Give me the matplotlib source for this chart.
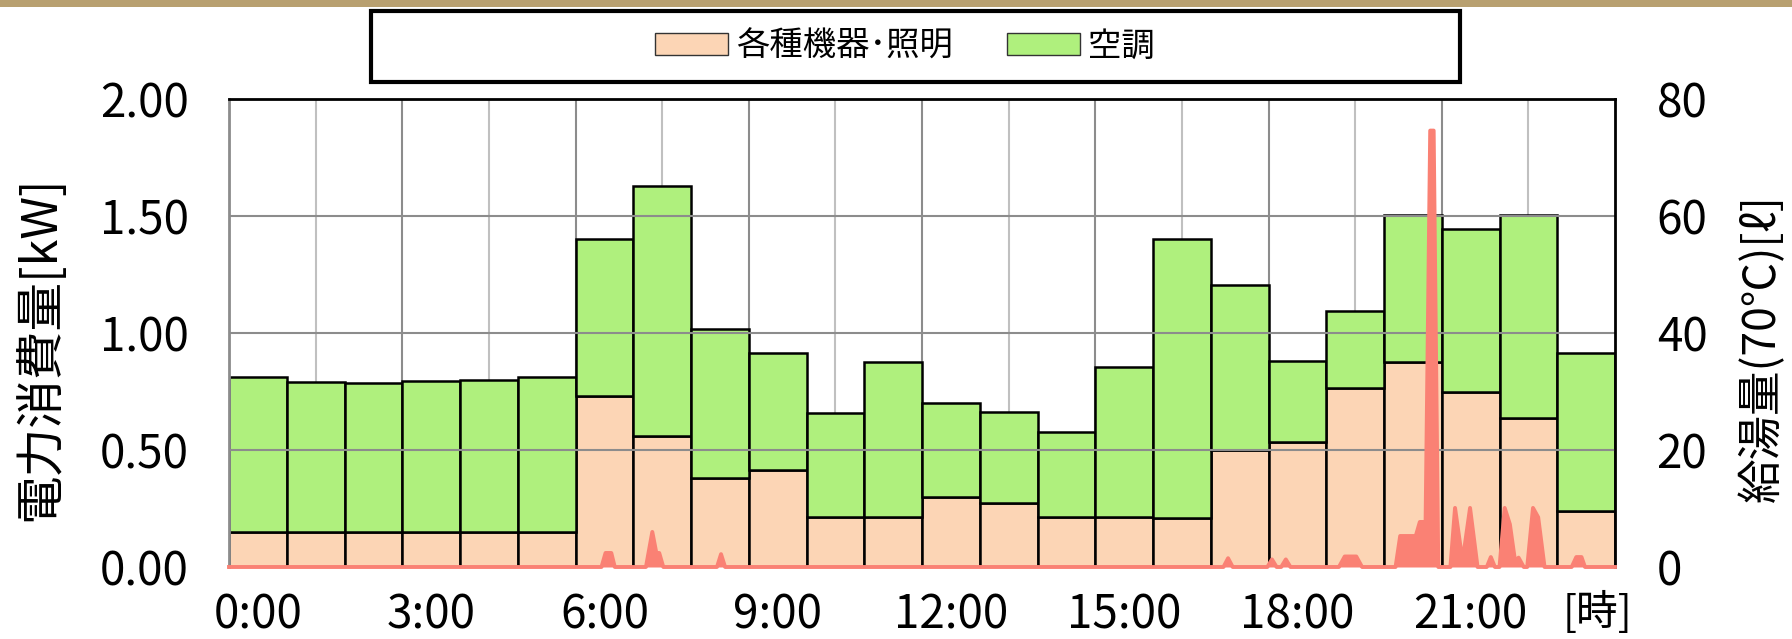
import numpy as np
import matplotlib
matplotlib.use("Agg")
import matplotlib.pyplot as plt
from matplotlib.patches import Patch, Rectangle
from matplotlib.ticker import FormatStrFormatter
from matplotlib.transforms import ScaledTranslation

plt.rcParams['font.family'] = ['Noto Sans CJK JP', 'DejaVu Sans']

# hourly electricity [kW], stacked: equipment/lighting + air conditioning
hours = np.arange(24)
kiki = [0.149, 0.149, 0.149, 0.149, 0.149, 0.149, 0.732, 0.560,
        0.379, 0.415, 0.213, 0.213, 0.301, 0.272, 0.213, 0.213,
        0.210, 0.500, 0.533, 0.764, 0.876, 0.749, 0.638, 0.239]
kucho = [0.661, 0.641, 0.638, 0.647, 0.651, 0.661, 0.668, 1.070,
         0.639, 0.500, 0.445, 0.663, 0.401, 0.390, 0.365, 0.643,
         1.190, 0.707, 0.346, 0.329, 0.630, 0.694, 0.865, 0.674]

# hot water supply (70C) [L], breakpoints in hours
water_t = [0, 6.45, 6.52, 6.62, 6.68, 7.22, 7.33, 7.40, 7.45, 7.52,
           8.45, 8.52, 8.59, 17.22, 17.30, 17.38, 17.98, 18.06, 18.14,
           18.22, 18.30, 18.38, 19.22, 19.32, 19.52, 19.62,
           20.20, 20.28, 20.55, 20.62, 20.72, 20.80, 20.86, 20.94,
           21.15, 21.23, 21.36, 21.49, 21.62, 21.78, 21.85, 21.92,
           22.00, 22.09, 22.18, 22.27, 22.33, 22.42, 22.48, 22.58, 22.67, 22.78,
           23.25, 23.33, 23.42, 23.48, 24]
water_l = [0, 0, 2.4, 2.4, 0, 0, 6.0, 2.4, 2.4, 0,
           0, 2.2, 0, 0, 1.5, 0, 0, 1.3, 0,
           0, 1.3, 0, 0, 1.8, 1.8, 0,
           0, 5.3, 5.3, 7.7, 7.7, 74.6, 74.6, 0,
           0, 10.1, 1.0, 10.1, 0, 0, 1.7, 0,
           0, 10.1, 7.3, 1.0, 1.6, 0, 0, 10.1, 8.5, 0,
           0, 1.7, 1.7, 0, 0]

xlabels = ['0:00', '3:00', '6:00', '9:00', '12:00', '15:00', '18:00', '21:00']

peach = '#FCD5B5'
green = '#AFF07D'
salmon = '#FA8174'

W, H = 1792, 639
fig = plt.figure(figsize=(W / 100, H / 100), dpi=100)

# header band and legend frame
fig.patches.append(Rectangle((0, 1 - 7 / H), 1, 7 / H, transform=fig.transFigure,
                             facecolor='#B8A070', edgecolor='none'))
fig.patches.append(Rectangle((371 / W, 1 - 82 / H), 1089 / W, 71 / H,
                             transform=fig.transFigure, facecolor='white',
                             edgecolor='black', lw=3))

ax = fig.add_axes([229 / W, 1 - 567 / H, (1615 - 229) / W, (567 - 99) / H])
ax.bar(hours, kiki, width=1, align='edge', color=peach, edgecolor='black',
       lw=1.8, zorder=2)
ax.bar(hours, kucho, bottom=kiki, width=1, align='edge', color=green,
       edgecolor='black', lw=1.8, zorder=2)
ax.set_xlim(0, 24)
ax.set_ylim(0, 2)
ax.set_xticks(np.arange(0, 24, 3))
ax.set_xticklabels(xlabels)
ax.set_xticks(np.arange(1.5, 24, 3), minor=True)
ax.set_axisbelow(True)
ax.grid(axis='x', which='major', color='#8C8C8C', lw=1.5)
ax.grid(axis='x', which='minor', color='#C0C0C0', lw=1.5)
ax.set_yticks(np.arange(0, 2.01, 0.5))
ax.yaxis.set_major_formatter(FormatStrFormatter('%.2f'))
ax.tick_params(axis='both', which='both', length=0, labelsize=33)
ax.tick_params(axis='y', pad=29)
ax.tick_params(axis='x', pad=17)
for s in ax.spines.values():
    s.set_visible(False)
# hour labels sit half an hour to the right of the gridline
shift = ScaledTranslation(0.29, 0, fig.dpi_scale_trans)
for lab in ax.get_xticklabels():
    lab.set_transform(lab.get_transform() + shift)

ax2 = ax.twinx()
ax2.set_ylim(0, 80)
ax2.set_yticks(np.arange(0, 81, 20))
ax2.set_axisbelow(True)
ax2.grid(axis='y', color='#8C8C8C', lw=1.5)
ax2.fill_between(water_t, water_l, color=salmon, lw=0, zorder=3)
ax2.plot(water_t, water_l, color=salmon, lw=2.8, zorder=3, clip_on=False)
ax2.tick_params(axis='y', length=0, labelsize=33, pad=30)
ax2.spines['left'].set_color('#8C8C8C')
ax2.spines['left'].set_linewidth(2)
ax2.spines['top'].set_linewidth(2)
ax2.spines['right'].set_linewidth(2)
ax2.spines['bottom'].set_visible(False)

fig.text(40 / W, 1 - 348 / H, '電力消費量[kW]', rotation=90, ha='center',
         va='center', fontsize=35)
fig.text(1762 / W, 1 - 348 / H, '給湯量(70℃)[ℓ]', rotation=90, ha='center',
         va='center', fontsize=32)
fig.text(1597 / W, 1 - 612 / H, '[時]', ha='center', va='center', fontsize=30)

handles = [Patch(facecolor=peach, edgecolor='#333333', lw=1, label='各種機器･照明'),
           Patch(facecolor=green, edgecolor='#333333', lw=1, label='空調')]
fig.legend(handles=handles, loc='center', bbox_to_anchor=(905 / W, 1 - 46 / H),
           ncol=2, frameon=False, fontsize=24, handlelength=2.2,
           handleheight=0.65, handletextpad=0.25, columnspacing=1.6)

fig.savefig('out.png', dpi=100)
